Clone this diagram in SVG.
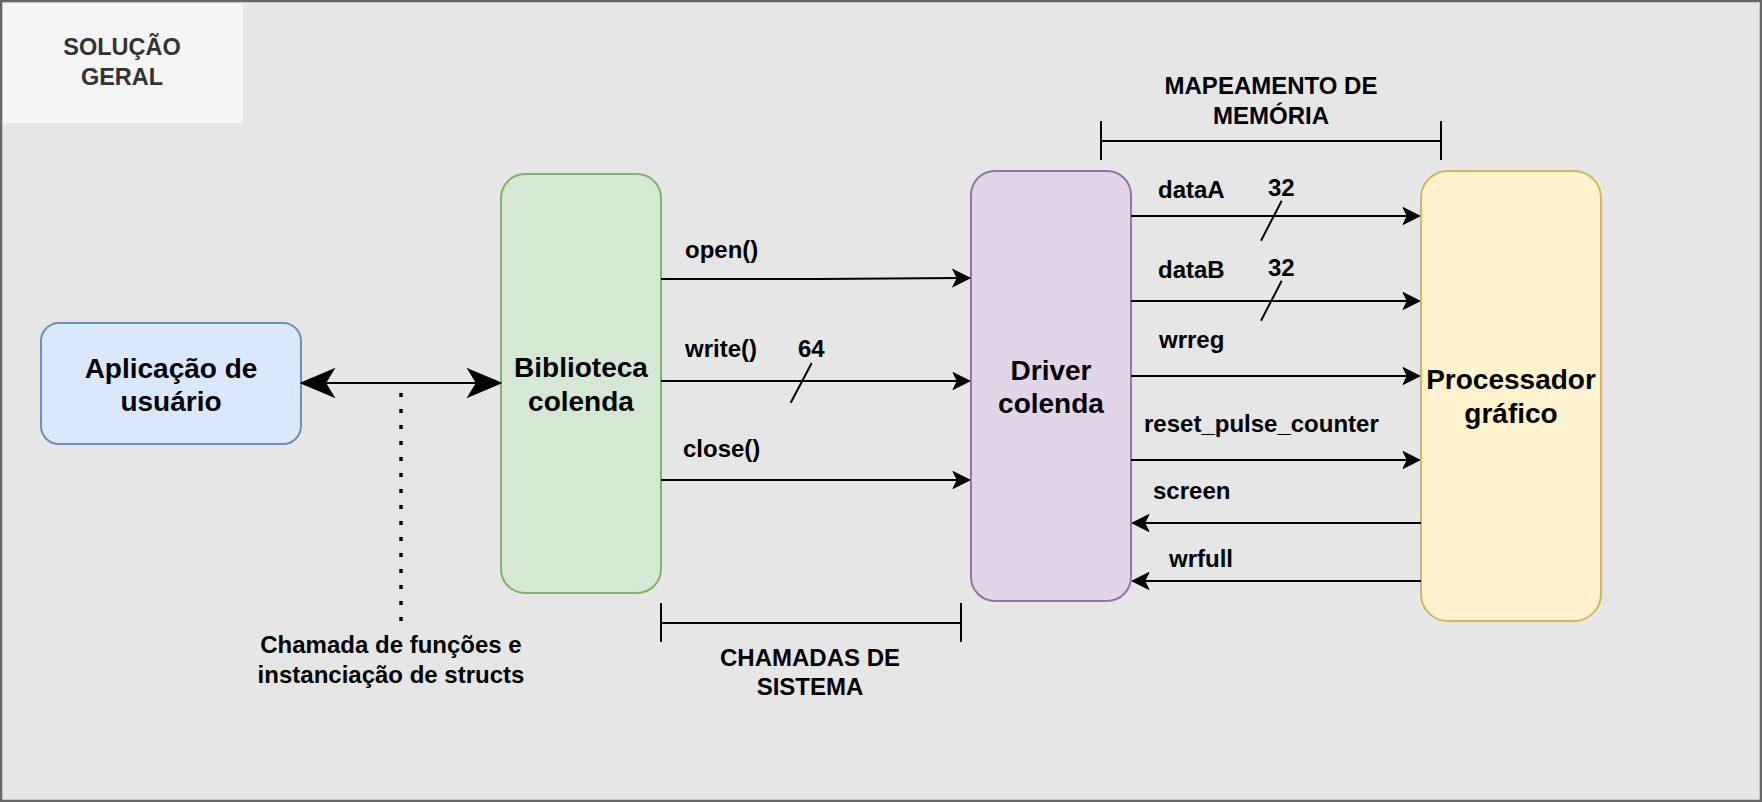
<svg xmlns="http://www.w3.org/2000/svg" width="1762" height="802" viewBox="0 0 1762 802">
<style>
text{font-family:"Liberation Sans",Arial,Helvetica,sans-serif;font-weight:bold;fill:#000}
.lbl{font-size:24px}
.node{font-size:28px;text-anchor:middle}
.mid{text-anchor:middle}
.ln{stroke:#000;stroke-width:2;fill:none}
.slash{stroke:#000;stroke-width:2;fill:none}
</style>
<defs>
<marker id="arr" markerUnits="userSpaceOnUse" viewBox="-20 -10 22 20" markerWidth="22" markerHeight="20" refX="-11" refY="0" orient="auto">
<path d="M0,0 L-17,-8.5 L-12.75,0 L-17,8.5 Z" fill="#000" stroke="#000" stroke-width="1"/>
</marker>
<marker id="big" markerUnits="userSpaceOnUse" viewBox="-36 -16 38 32" markerWidth="38" markerHeight="32" refX="-20" refY="0" orient="auto-start-reverse">
<path d="M0,0 L-31,-13 L-23,0 L-31,13 Z" fill="#000" stroke="#000" stroke-width="2"/>
</marker>
</defs>
<rect x="1" y="1" width="1760" height="800" fill="#E6E6E6" stroke="#666" stroke-width="2.5"/>
<g id="title">
<rect x="3" y="3" width="240" height="120" fill="#F5F5F5"/>
<text class="mid" x="122" y="55" font-size="23.5" style="fill:#333">SOLUÇÃO</text>
<text class="mid" x="122" y="85" font-size="23.5" style="fill:#333">GERAL</text>
</g>
<g id="app">
<rect x="41" y="323" width="260" height="121" rx="18" fill="#DAE8FC" stroke="#6C8EBF" stroke-width="2"/>
<text class="node" x="171" y="378">Aplicação de</text>
<text class="node" x="171" y="411">usuário</text>
</g>
<g id="lib">
<rect x="501" y="174" width="160" height="419" rx="24" fill="#D5E8D4" stroke="#82B366" stroke-width="2"/>
<text class="node" x="581" y="377">Biblioteca</text>
<text class="node" x="581" y="411">colenda</text>
</g>
<g id="driver">
<rect x="971" y="171" width="160" height="430" rx="24" fill="#E1D5E7" stroke="#9673A6" stroke-width="2"/>
<text class="node" x="1051" y="380">Driver</text>
<text class="node" x="1051" y="413">colenda</text>
</g>
<g id="gpu">
<rect x="1421" y="171" width="180" height="450" rx="27" fill="#FFF2CC" stroke="#D6B656" stroke-width="2"/>
<text class="node" x="1511" y="389">Processador</text>
<text class="node" x="1511" y="423">gráfico</text>
</g>
<g id="connectors">
<path class="ln" d="M322,383 L480,383" stroke-width="6.5" marker-start="url(#big)" marker-end="url(#big)"/>
<path d="M401,393 L401,622" stroke="#000" stroke-width="3.5" stroke-dasharray="4 12" fill="none"/>
<path class="ln" d="M661,279 L820,279 L959,278" marker-end="url(#arr)"/>
<path class="ln" d="M661,381 L959,381" marker-end="url(#arr)"/>
<path class="ln" d="M661,480 L959,480" marker-end="url(#arr)"/>
<path class="slash" d="M811.7,363 L790.7,402.7"/>
<path class="ln" d="M1131,216 L1409,216" marker-end="url(#arr)"/>
<path class="ln" d="M1131,301 L1409,301" marker-end="url(#arr)"/>
<path class="ln" d="M1131,376 L1409,376" marker-end="url(#arr)"/>
<path class="ln" d="M1131,460 L1409,460" marker-end="url(#arr)"/>
<path class="ln" d="M1421,523 L1143,523" marker-end="url(#arr)"/>
<path class="ln" d="M1421,581 L1143,581" marker-end="url(#arr)"/>
<path class="slash" d="M1281.7,200.7 L1261,240.7"/>
<path class="slash" d="M1281.7,280.7 L1261,320.7"/>
<path class="ln" d="M1101,121 L1101,160 M1101,141 L1441,141 M1441,121 L1441,160"/>
<path class="ln" d="M661,603 L661,642 M661,623 L961,623 M961,603 L961,642"/>
</g>
<g id="labels">
<text class="lbl" x="685" y="258">open()</text>
<text class="lbl" x="685" y="357">write()</text>
<text class="lbl" x="798" y="357">64</text>
<text class="lbl" x="683" y="457">close()</text>
<text class="lbl" x="1158" y="198">dataA</text>
<text class="lbl" x="1268" y="196">32</text>
<text class="lbl" x="1158" y="278">dataB</text>
<text class="lbl" x="1268" y="276">32</text>
<text class="lbl" x="1159" y="348">wrreg</text>
<text class="lbl" x="1144" y="432">reset_pulse_counter</text>
<text class="lbl" x="1153" y="499">screen</text>
<text class="lbl" x="1169" y="567">wrfull</text>
<text class="lbl mid" x="1271" y="94">MAPEAMENTO DE</text>
<text class="lbl mid" x="1271" y="124">MEMÓRIA</text>
<text class="lbl mid" x="810" y="666">CHAMADAS DE</text>
<text class="lbl mid" x="810" y="695">SISTEMA</text>
<text class="lbl mid" x="391" y="653">Chamada de funções e</text>
<text class="lbl mid" x="391" y="683">instanciação de structs</text>
</g>
</svg>
